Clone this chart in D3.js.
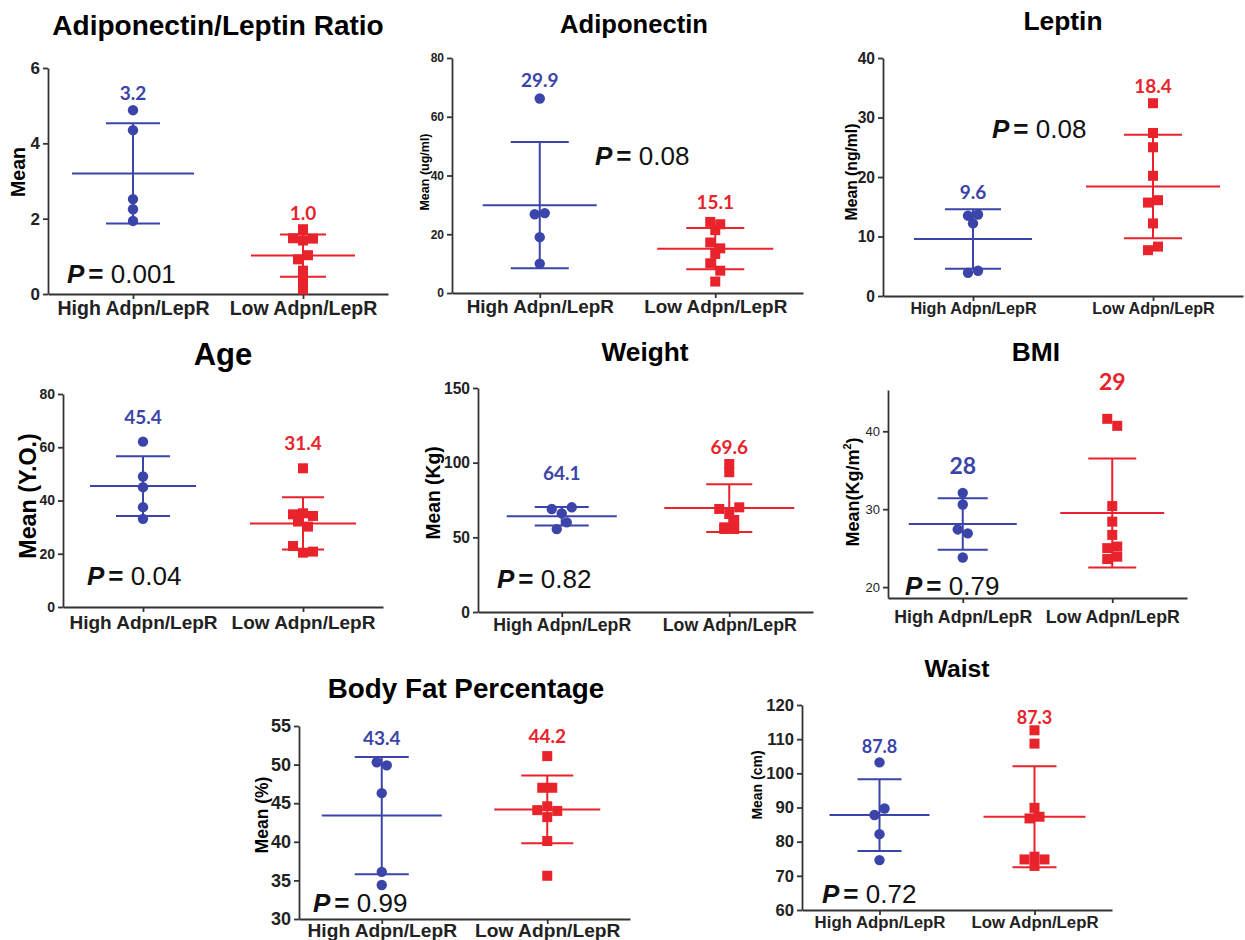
<!DOCTYPE html>
<html>
<head>
<meta charset="utf-8">
<script src="https://cdn.jsdelivr.net/npm/d3@7"></script>
<style>
body { margin: 0; background: #fff; }
text { font-family: "Liberation Sans", Arial, sans-serif; }
</style>
</head>
<body>
<svg id="fig" width="1245" height="940"></svg>
<script>
var groups = ["High Adpn/LepR", "Low Adpn/LepR"];
var colors = ["#3b45a9", "#e8232b"];

// individual subjects per panel (high group, low group)
var ratioHigh = [4.88, 4.35, 2.52, 2.25, 1.94];
var ratioLow = [1.72, 1.48, 1.42, 1.47, 0.92, 1.03, 0.62, 0.37, 0.12];
var adipHigh = [66.2, 26.8, 27.2, 19, 10];
var adipLow = [24.2, 23.4, 21.4, 17.2, 15.2, 13.3, 10.1, 7.6, 3.9];
var leptinHigh = [13.5, 13.7, 12.2, 3.9, 4.25];
var leptinLow = [32.4, 27.4, 25, 20.2, 15.7, 16.1, 12.2, 7.7, 8.3];
var ageHigh = [62.1, 49, 45, 37.5, 33.1];
var ageLow = [52.1, 34.8, 35.2, 34.2, 32.1, 30.2, 22.9, 20.4, 20.8];
var weightHigh = [69, 66, 70.1, 55.5, 60];
var weightLow = [99.1, 93.6, 69, 65.6, 70.1, 56.7, 61.6, 55.6, 55.6];
var bmiHigh = [32.1, 30.6, 27.4, 26.9, 23.8];
var bmiLow = [41.6, 40.7, 30.4, 28.4, 26.7, 25, 25.2, 23.6, 23.9];
var fatHigh = [50.3, 49.9, 46.3, 36.1, 34.4];
var fatLow = [51.1, 47, 47, 44.1, 44.6, 44, 43.2, 40.1, 35.6];
var waistHigh = [103.2, 87.8, 89.7, 82.2, 74.6];
var waistLow = [112.6, 108.7, 89.9, 86.8, 87.3, 74.8, 75.6, 74.8, 72.9];

// mean and SD [high, low]
var ratioMean = [3.2, 1.02], ratioSD = [1.33, 0.56];
var adipMean = [29.9, 15.1], adipSD = [21.5, 7.0];
var leptinMean = [9.6, 18.4], leptinSD = [5.0, 8.7];
var ageMean = [45.4, 31.4], ageSD = [11.2, 9.8];
var weightMean = [64.1, 69.6], weightSD = [6.2, 16.0];
var bmiMean = [28.1, 29.5], bmiSD = [3.3, 7.0];
var fatMean = [43.4, 44.2], fatSD = [7.6, 4.4];
var waistMean = [87.8, 87.3], waistSD = [10.5, 14.8];

var meanText = [["3.2", "1.0"], ["29.9", "15.1"], ["9.6", "18.4"], ["45.4", "31.4"],
                ["64.1", "69.6"], ["28", "29"], ["43.4", "44.2"], ["87.8", "87.3"]];
var pText = ["0.001", "0.08", "0.08", "0.04", "0.82", "0.79", "0.99", "0.72"];

var yTicks = [[0, 2, 4, 6], [0, 20, 40, 60, 80], [0, 10, 20, 30, 40], [0, 20, 40, 60, 80],
              [0, 50, 100, 150], [20, 30, 40], [30, 35, 40, 45, 50, 55], [60, 70, 80, 90, 100, 110, 120]];

// layout of each panel (pixels)
var panels = [
  {title: "Adiponectin/Leptin Ratio", ylab: "Mean", vals: [ratioHigh, ratioLow], mean: ratioMean, sd: ratioSD,
   domain: [0, 6], box: [48, 388, 68, 294], tt: [218, 35, 28], yl: [18, 172, 19.6], tick: [17, true],
   xl: [19.5, 315], lab: [100, 220, 19], p: [67, 283], mh: [61, 52], ch: [27, 23]},
  {title: "Adiponectin", ylab: "Mean (ug/ml)", vals: [adipHigh, adipLow], mean: adipMean, sd: adipSD,
   domain: [0, 80], box: [452, 803, 58, 293], tt: [634, 33, 25.6], yl: [425, 172, 12.5], tick: [12, true],
   xl: [18.9, 313], lab: [87, 209, 19], p: [595, 165], mh: [57, 58], ch: [29, 29]},
  {title: "Leptin", ylab: "Mean (ng/ml)", vals: [leptinHigh, leptinLow], mean: leptinMean, sd: leptinSD,
   domain: [0, 40], box: [883, 1243, 58, 296], tt: [1063, 30, 26.4], yl: [851, 172, 15.7], tick: [15.6, true],
   xl: [16.2, 314], lab: [199, 93, 19], p: [992, 138], mh: [59, 67], ch: [28, 29]},
  {title: "Age", ylab: "Mean (Y.O.)", vals: [ageHigh, ageLow], mean: ageMean, sd: ageSD,
   domain: [0, 80], box: [63, 383, 394, 607], tt: [223, 365, 31], yl: [28, 496, 23.3], tick: [14, true],
   xl: [19, 629], lab: [424, 450, 19], p: [87, 585], mh: [53, 53], ch: [27, 21]},
  {title: "Weight", ylab: "Mean (Kg)", vals: [weightHigh, weightLow], mean: weightMean, sd: weightSD,
   domain: [0, 150], box: [478, 813, 388, 612], tt: [645, 361, 26.3], yl: [433, 493, 19.3], tick: [15.6, true],
   xl: [17.7, 631], lab: [480, 454, 19], p: [497, 588], mh: [55, 65], ch: [27, 23]},
  {title: "BMI", ylab: "Mean(Kg/m", vals: [bmiHigh, bmiLow], mean: bmiMean, sd: bmiSD,
   domain: [18.6, 45.3], box: [888, 1187, 390, 598], tt: [1036, 361, 26.4], yl: [853, 492, 18], tick: [13, false],
   xl: [17.7, 623], lab: [474, 390, 23], p: [905, 595], mh: [54, 52], ch: [25, 24], sup: true},
  {title: "Body Fat Percentage", ylab: "Mean (%)", vals: [fatHigh, fatLow], mean: fatMean, sd: fatSD,
   domain: [30, 55], box: [299, 630, 726, 919], tt: [466, 698, 27.8], yl: [262, 815, 17.5], tick: [18, true],
   xl: [19.2, 937], lab: [745, 743, 19], p: [313, 912], mh: [60, 53], ch: [27, 26]},
  {title: "Waist", ylab: "Mean (cm)", vals: [waistHigh, waistLow], mean: waistMean, sd: waistSD,
   domain: [60, 120], box: [802, 1112, 705, 910], tt: [957, 677, 24.7], yl: [757, 785, 14], tick: [16.6, true],
   xl: [16.8, 928], lab: [753, 724, 18], p: [822, 903], mh: [50, 51], ch: [22, 22]}
];

// spread points that sit in the same row, like a scatter dot plot
function jitter(vals, y) {
  var idx = vals.map(function(d, i) { return i; }).sort(function(a, b) { return vals[b] - vals[a]; });
  var off = [], row = [], start;
  function flush() {
    row.sort(function(a, b) { return a - b; });
    row.forEach(function(k, j) { off[k] = (j - (row.length - 1) / 2) * 10; });
    row = [];
  }
  idx.forEach(function(i) {
    var py = y(vals[i]);
    if (row.length && py - start >= 8) flush();
    if (!row.length) start = py;
    row.push(i);
  });
  flush();
  return off;
}

var svg = d3.select("#fig");

panels.forEach(function(p, pi) {
  var g = svg.append("g");
  var y = d3.scaleLinear().domain(p.domain).range([p.box[3], p.box[2]]);
  var x = d3.scalePoint().domain(groups).range([p.box[0], p.box[1]]).padding(0.5);

  var ya = g.append("g")
      .attr("transform", "translate(" + p.box[0] + ",0)")
      .call(d3.axisLeft(y).tickValues(yTicks[pi]).tickFormat(d3.format("d")).tickSize(5).tickSizeOuter(0));
  var xa = g.append("g")
      .attr("transform", "translate(0," + p.box[3] + ")")
      .call(d3.axisBottom(x).tickSize(5).tickSizeOuter(0));
  g.selectAll(".domain, .tick line").attr("stroke", "#333").attr("stroke-width", 1.8);
  ya.selectAll("text")
      .style("font-size", p.tick[0] + "px")
      .style("font-weight", p.tick[1] ? "bold" : "normal")
      .attr("fill", "#222");
  xa.selectAll("text")
      .style("font-size", p.xl[0] + "px")
      .style("font-weight", "bold")
      .attr("fill", "#222")
      .attr("y", p.xl[1] - p.box[3])
      .attr("dy", 0);

  g.append("text")
      .attr("x", p.tt[0]).attr("y", p.tt[1])
      .attr("text-anchor", "middle")
      .style("font-size", p.tt[2] + "px").style("font-weight", "bold")
      .text(p.title);

  var yl = g.append("text")
      .attr("transform", "translate(" + p.yl[0] + "," + p.yl[1] + ") rotate(-90)")
      .attr("text-anchor", "middle")
      .attr("dominant-baseline", "central")
      .style("font-size", p.yl[2] + "px").style("font-weight", "bold")
      .text(p.ylab);
  if (p.sup) {
    yl.append("tspan").attr("baseline-shift", "super").style("font-size", (p.yl[2] * 0.6) + "px").text("2");
    yl.append("tspan").text(")");
  }

  groups.forEach(function(grp, gi) {
    var cx = x(grp), col = colors[gi];
    var m = p.mean[gi], s = p.sd[gi];
    var eg = g.append("g").attr("stroke", col).attr("stroke-width", 2);
    eg.append("line").attr("x1", cx).attr("x2", cx).attr("y1", y(m - s)).attr("y2", y(m + s));
    eg.append("line").attr("x1", cx - p.mh[gi]).attr("x2", cx + p.mh[gi]).attr("y1", y(m)).attr("y2", y(m));
    [m - s, m + s].forEach(function(v) {
      eg.append("line").attr("x1", cx - p.ch[gi]).attr("x2", cx + p.ch[gi]).attr("y1", y(v)).attr("y2", y(v));
    });

    var vals = p.vals[gi];
    var off = jitter(vals, y);
    if (gi === 0) {
      g.append("g").selectAll("circle")
          .data(vals).enter().append("circle")
          .attr("cx", function(d, i) { return cx + off[i]; })
          .attr("cy", function(d) { return y(d); })
          .attr("r", 5.2)
          .attr("fill", col);
    } else {
      g.append("g").selectAll("rect")
          .data(vals).enter().append("rect")
          .attr("x", function(d, i) { return cx + off[i] - 5; })
          .attr("y", function(d) { return y(d) - 5; })
          .attr("width", 10).attr("height", 10)
          .attr("fill", col);
    }

    g.append("text")
        .attr("x", cx).attr("y", p.lab[gi])
        .attr("text-anchor", "middle")
        .attr("fill", col)
        .style("font-family", "Lato, 'Open Sans', sans-serif")
        .style("font-size", p.lab[2] + "px").style("font-weight", "bold")
        .text(meanText[pi][gi]);
  });

  var pt = g.append("text")
      .attr("x", p.p[0]).attr("y", p.p[1])
      .style("font-size", "26px").attr("fill", "#111");
  pt.append("tspan").style("font-weight", "bold").style("font-style", "italic").text("P");
  pt.append("tspan").style("font-weight", "bold").attr("dx", 4).text("=");
  pt.append("tspan").text(" " + pText[pi]);
});
</script>
</body>
</html>
